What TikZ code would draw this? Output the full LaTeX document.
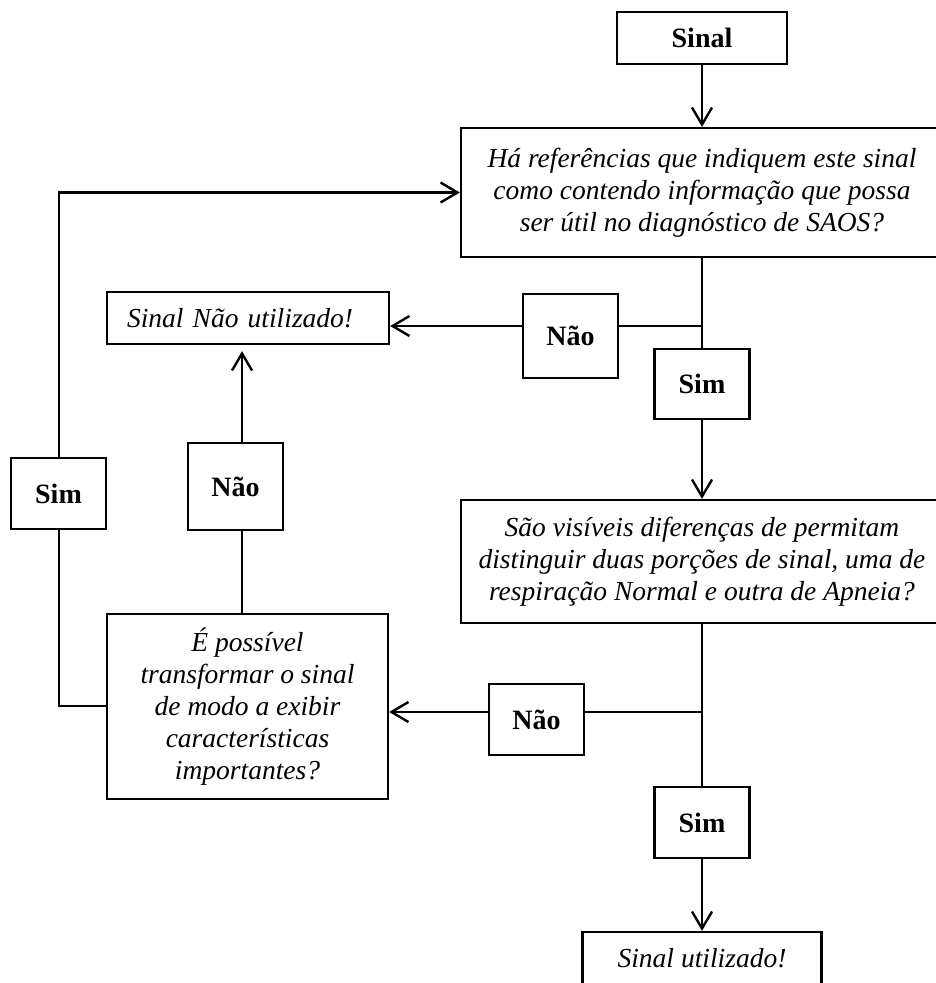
\documentclass[tikz,border=0pt]{standalone}
\usepackage{fontspec}
\setmainfont{Liberation Serif}
\usetikzlibrary{arrows.meta}
\begin{document}
\begin{tikzpicture}[x=1pt,y=-1pt,
  box/.style={draw, line width=2.2pt, inner sep=0pt, align=center},
  qtext/.style={font=\fontsize{27.5}{32}\selectfont\itshape},
  lbl/.style={font=\fontsize{28}{32}\selectfont\bfseries},
  conn/.style={line width=2.4pt},
  arr/.style={conn, -{Straight Barb[length=17pt,width=20pt,line width=2.4pt]}}]
\useasboundingbox (0,0) rectangle (936,983);
\clip (0,0) rectangle (936,983);
% nodes
\node[box, lbl, minimum width=170pt, minimum height=52pt] (sinal) at (702,38) {Sinal};
\node[box, qtext, minimum width=482pt, minimum height=129pt] (q1) at (702,192.5)
  {Há referências que indiquem este sinal\\como contendo informação que possa\\ser útil no diagnóstico de SAOS?};
\node[box, lbl, minimum width=95pt, minimum height=84pt] (nao1) at (570.5,336) {Não};
\node[box, lbl, minimum width=95pt, minimum height=70pt] (sim1) at (702,384) {Sim};
\node[box, qtext, minimum width=282pt, minimum height=52pt, inner xsep=20pt, text width=242pt, align=left] (naoutil) at (248,318) {Sinal Não utilizado!};
\node[box, qtext, minimum width=482pt, minimum height=123pt] (q2) at (702,561.5)
  {São visíveis diferenças de permitam\\distinguir duas porções de sinal, uma de\\respiração Normal e outra de Apneia?};
\node[box, lbl, minimum width=95pt, minimum height=71pt] (nao3) at (536.5,719.5) {Não};
\node[box, lbl, minimum width=95pt, minimum height=71pt] (sim2) at (702,822.5) {Sim};
\node[box, qtext, minimum width=239pt, minimum height=52pt] (util) at (702,958) {Sinal utilizado!};
\node[box, lbl, minimum width=95pt, minimum height=87pt] (nao2) at (235.5,486.5) {Não};
\node[box, lbl, minimum width=95pt, minimum height=71pt] (sim3) at (58.5,493.5) {Sim};
\node[box, qtext, minimum width=281pt, minimum height=185pt] (qE) at (247.5,706.5)
  {É possível\\transformar o sinal\\de modo a exibir\\características\\importantes?};
% helper coordinates
\coordinate (j1) at (702,326);
\coordinate (j2) at (702,712);
\coordinate (cx) at (242,0);
\coordinate (lx) at (59,0);
\coordinate (ly) at (0,706);
% connectors
\draw[arr] (sinal) -- (q1);
\draw[conn] (q1.south) -- (j1) -- (sim1.north);
\draw[conn] (j1) -- (nao1.east |- j1);
\draw[arr] (nao1.west |- j1) -- (naoutil.east |- j1);
\draw[arr] (sim1.south) -- (q2.north);
\draw[conn] (q2.south) -- (j2) -- (sim2.north);
\draw[conn] (j2) -- (nao3.east |- j2);
\draw[arr] (nao3.west |- j2) -- (qE.east |- j2);
\draw[arr] (sim2.south) -- (util.north);
\draw[conn] (qE.north -| cx) -- (nao2.south -| cx);
\draw[arr, shorten >=6pt] (nao2.north -| cx) -- (naoutil.south -| cx);
\draw[conn] (qE.west |- ly) -- (lx |- ly) -- (sim3.south -| lx);
\draw[arr] (sim3.north -| lx) -- (lx |- q1.west) -- (q1.west);
\end{tikzpicture}
\end{document}
